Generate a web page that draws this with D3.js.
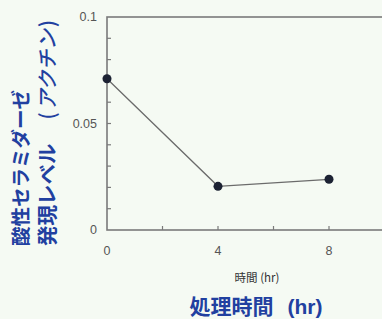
<!DOCTYPE html>
<html><head><meta charset="utf-8">
<script src="https://cdn.jsdelivr.net/npm/d3@7"></script>
<style>
html,body{margin:0;padding:0;background:#f5faf3;overflow:hidden;}
svg{display:block;}
</style></head>
<body>
<script>
const hours = [0, 4, 8];
const levels = [0.071, 0.0205, 0.0238];
const xTickLabels = ["0", "4", "8"];
const yTickLabels = ["0", "0.05", "0.1"];
const yTitle1 = "酸性セラミダーゼ";
const yTitle2a = "発現レベル";
const yTitle2b = ["(", "アクチン", ")"];
const xSubTitle = "時間 (hr)";
const xTitle = "処理時間";
const xTitleUnit = "(hr)";

const W = 382, H = 319;
const svg = d3.select("body").append("svg").attr("width", W).attr("height", H);
svg.append("rect").attr("width", W).attr("height", H).attr("fill", "#f5faf3");

const x = d3.scaleLinear().domain([0, 12]).range([107, 440]);
const y = d3.scaleLinear().domain([0, 0.1]).range([230, 17]);
const axisColor = "#7a7a7a";

// frame
svg.append("rect").attr("x", x(0)).attr("y", y(0.1))
  .attr("width", x(12) - x(0)).attr("height", y(0) - y(0.1))
  .attr("fill", "none").attr("stroke", axisColor).attr("stroke-width", 1.6);

// y minor ticks (inside)
const yt = d3.range(1, 10).map(i => i * 0.01);
svg.append("g").selectAll("line").data(yt).join("line")
  .attr("x1", x(0)).attr("x2", x(0) + 4)
  .attr("y1", d => y(d)).attr("y2", d => y(d))
  .attr("stroke", axisColor).attr("stroke-width", 1.2);
// x ticks (inside)
const xt = [2, 4, 6, 8, 10];
svg.append("g").selectAll("line").data(xt).join("line")
  .attr("x1", d => x(d)).attr("x2", d => x(d))
  .attr("y1", y(0)).attr("y2", y(0) - 4)
  .attr("stroke", axisColor).attr("stroke-width", 1.2);

// tick labels
svg.append("g").selectAll("text").data(yTickLabels).join("text")
  .attr("x", 97).attr("y", d => y(+d) + 4)
  .attr("text-anchor", "end")
  .attr("font-family", "Liberation Sans, Arial, sans-serif")
  .attr("font-size", 12.5).attr("fill", "#555")
  .text(d => d);
svg.append("g").selectAll("text").data(xTickLabels).join("text")
  .attr("x", d => x(+d)).attr("y", 255)
  .attr("text-anchor", "middle")
  .attr("font-family", "Liberation Sans, Arial, sans-serif")
  .attr("font-size", 12.5).attr("fill", "#555")
  .text(d => d);

// line and points
const data = hours.map((h, i) => ({h, v: levels[i]}));
svg.append("path").datum(data)
  .attr("d", d3.line().x(d => x(d.h)).y(d => y(d.v)))
  .attr("fill", "none").attr("stroke", "#6b6b6b").attr("stroke-width", 1.3);
svg.append("g").selectAll("circle").data(data).join("circle")
  .attr("cx", d => x(d.h)).attr("cy", d => y(d.v)).attr("r", 4.5)
  .attr("fill", "#1c2233");

// x subtitle
svg.append("text").attr("x", 257).attr("y", 282).attr("text-anchor", "middle")
  .attr("font-family", "Noto Sans CJK JP, sans-serif").attr("font-size", 11.5)
  .attr("fill", "#333").text(xSubTitle);

// x title
const blue = "#2140a0";
const xtitle = svg.append("text").attr("x", 256).attr("y", 314).attr("text-anchor", "middle")
  .attr("font-family", "Noto Sans CJK JP, sans-serif").attr("font-size", 21)
  .attr("font-weight", "bold").attr("fill", blue);
xtitle.append("tspan").text(xTitle);
xtitle.append("tspan").attr("dx", 14).attr("font-family", "Liberation Sans, Arial, sans-serif").text(xTitleUnit);

// y titles
svg.append("text").attr("transform", "translate(28,246) rotate(-90)")
  .attr("font-family", "Noto Sans CJK JP, sans-serif").attr("font-size", 19.5)
  .attr("font-weight", "bold").attr("fill", blue).text(yTitle1);
const t2 = svg.append("text").attr("transform", "translate(55,246) rotate(-90)")
  .attr("font-family", "Noto Sans CJK JP, sans-serif").attr("font-size", 20.5)
  .attr("font-weight", "bold").attr("fill", blue);
t2.append("tspan").text(yTitle2a);
t2.append("tspan").attr("dx", 24).attr("font-weight", 500).text(yTitle2b[0]);
t2.append("tspan").attr("dx", 2).attr("font-weight", 500).attr("font-style", "italic").text(yTitle2b[1]);
t2.append("tspan").attr("dx", 2).attr("font-weight", 500).text(yTitle2b[2]);
</script>
</body></html>
